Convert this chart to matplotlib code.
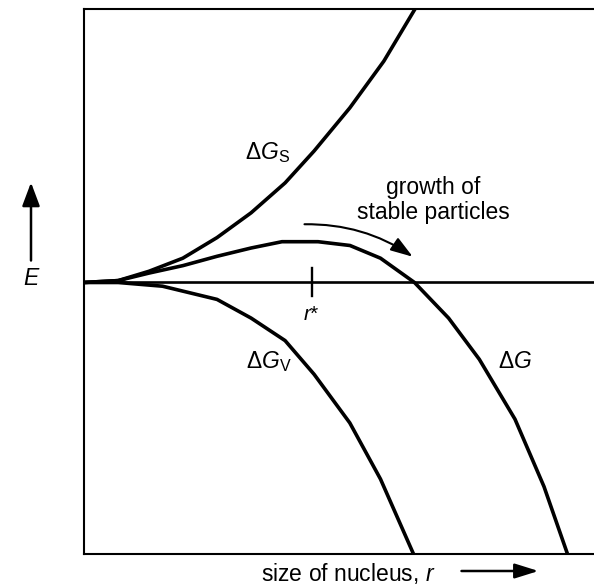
import matplotlib
matplotlib.use('Agg')
import matplotlib.pyplot as plt
from matplotlib.patches import FancyArrowPatch

plt.rcParams['font.family'] = ['Liberation Sans', 'DejaVu Sans']
plt.rcParams['mathtext.fontset'] = 'custom'
plt.rcParams['mathtext.rm'] = 'Liberation Sans'
plt.rcParams['mathtext.it'] = 'Liberation Sans:italic'

# curves (r along x, energy along y, zero line at 0)
gs_r = [0, 34.7, 65.4, 99.3, 133.5, 167.6, 201.6, 230.6, 266.3, 300.3, 331.5]
gs_e = [0, 1.9, 11.2, 24.3, 44.9, 69.7, 99.6, 131.5, 174.6, 221.3, 273.5]

gv_r = [0, 34.7, 79.0, 133.5, 167.6, 201.6, 230.6, 266.3, 297.0, 330.0]
gv_e = [0, 0, -3.7, -16.9, -35.6, -58.1, -91.8, -140.4, -196.6, -271.5]

g_r = [0, 34.7, 65.4, 99.5, 133.5, 167.6, 198.5, 234.5, 266.5, 297.0, 331.0,
       365.1, 395.8, 431.5, 460.5, 484.0]
g_e = [0, 1.9, 9.4, 16.9, 26.2, 34.5, 40.8, 40.8, 37.0, 24.3, 0, -35.6,
       -76.8, -136.7, -204.1, -271.5]

r_star = 228.0
x_max, y_min, y_max = 511.0, -271.5, 273.5

fig = plt.figure(figsize=(5.94, 5.86), dpi=100)
ax = fig.add_axes([83.5 / 594, 32 / 586, 511 / 594, 545 / 586])

ax.plot(gs_r, gs_e, color='black', lw=2.6, solid_capstyle='butt')
ax.plot(gv_r, gv_e, color='black', lw=2.6, solid_capstyle='butt')
ax.plot(g_r, g_e, color='black', lw=2.6, solid_capstyle='butt')
ax.axhline(0, color='black', lw=1.9)
ax.plot([r_star, r_star], [-13.5, 14.5], color='black', lw=1.7)

ax.set_xlim(0, x_max)
ax.set_ylim(y_min, y_max)
ax.set_xticks([])
ax.set_yticks([])
for s in ax.spines.values():
    s.set_linewidth(1.5)
ax.spines['right'].set_visible(False)

fs = 16.5
ax.text(184.5, 129.5, r'$\Delta\mathit{G}_{\mathrm{S}}$', fontsize=fs, ha='center', va='center')
ax.text(185.5, -79.5, r'$\Delta\mathit{G}_{\mathrm{V}}$', fontsize=fs, ha='center', va='center')
ax.text(431.5, -79.0, r'$\Delta\mathit{G}$', fontsize=fs, ha='center', va='center')
ax.text(r_star, -32.5, r'$\mathit{r}$*', fontsize=fs - 1.5, ha='center', va='center')
ax.text(350, 82.5, 'growth of\nstable particles', fontsize=fs, ha='center', va='center',
        linespacing=1.15)

arc = FancyArrowPatch((218.2, 58.2), (331.5, 24.2), connectionstyle='arc3,rad=-0.165',
                      arrowstyle='-|>,head_length=0.75,head_width=0.25',
                      mutation_scale=18, color='black', lw=1.5)
ax.add_patch(arc)

# axis labels outside the box
ax.text(-52.5, 4, 'E', fontsize=fs, style='italic', ha='center', va='center', clip_on=False)
ax.annotate('', xy=(-52.5, 100), xytext=(-52.5, 22), annotation_clip=False,
            arrowprops=dict(arrowstyle='-|>,head_length=0.8,head_width=0.3',
                            mutation_scale=18, color='black', lw=1.8, shrinkA=0, shrinkB=0))
ax.text(264.8, -290.5, 'size of nucleus, $\\mathit{r}$', fontsize=fs, ha='center', va='center',
        clip_on=False)
ax.annotate('', xy=(455, -288.5), xytext=(378, -288.5), annotation_clip=False,
            arrowprops=dict(arrowstyle='-|>,head_length=0.8,head_width=0.25',
                            mutation_scale=18, color='black', lw=1.8, shrinkA=0, shrinkB=0))

fig.savefig('out.png', dpi=100)
